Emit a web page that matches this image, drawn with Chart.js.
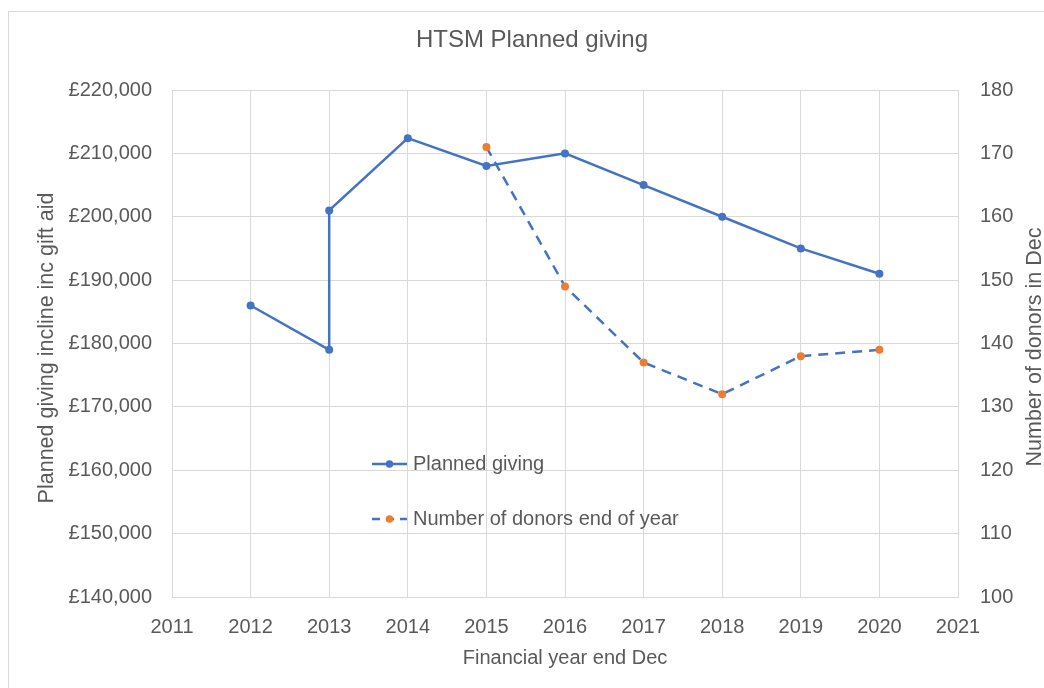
<!DOCTYPE html>
<html>
<head>
<meta charset="utf-8">
<script src="https://cdn.jsdelivr.net/npm/chart.js@4.4.1/dist/chart.umd.min.js"></script>
<style>
  html, body { margin: 0; padding: 0; background: #fff; }
  #wrap { width: 1044px; height: 688px; position: relative; }
</style>
</head>
<body>
<div id="wrap"><canvas id="myChart" width="1044" height="688"></canvas></div>
<script>
// data
const givingYears = [2012, 2013, 2013, 2014, 2015, 2016, 2017, 2018, 2019, 2020];
const givingValues = [186000, 179000, 201000, 212400, 208000, 210000, 205000, 200000, 195000, 191000];
const donorYears = [2015, 2016, 2017, 2018, 2019, 2020];
const donorValues = [171, 149, 137, 132, 138, 139];
const seriesNames = ['Planned giving', 'Number of donors end of year'];

const blue = '#4472C4';
const orange = '#ED7D31';
const textGrey = '#595959';
const gridGrey = '#D9D9D9';
const fontFamily = '"Liberation Sans", Arial, sans-serif';

const toPoints = (xs, ys) => xs.map((x, i) => ({ x: x, y: ys[i] }));

// rotated text reading bottom to top
function sideTitle(ctx, text, x, y) {
  ctx.save();
  ctx.fillStyle = textGrey;
  ctx.font = '21.5px ' + fontFamily;
  ctx.textAlign = 'center';
  ctx.textBaseline = 'middle';
  ctx.translate(x, y);
  ctx.rotate(-Math.PI / 2);
  ctx.fillText(text, 0, 0);
  ctx.restore();
}

// chart border, title, side titles and the in-plot legend
const extras = {
  id: 'extras',
  beforeDraw(chart) {
    const ctx = chart.ctx;
    ctx.save();
    ctx.strokeStyle = '#D9D9D9';
    ctx.lineWidth = 1;
    ctx.strokeRect(8.5, 11.5, 1100, 800);
    ctx.restore();
  },
  afterDraw(chart) {
    const ctx = chart.ctx;
    ctx.save();
    ctx.fillStyle = textGrey;
    ctx.font = '24px ' + fontFamily;
    ctx.textAlign = 'center';
    ctx.textBaseline = 'middle';
    ctx.fillText('HTSM Planned giving', 532, 40);
    ctx.restore();

    sideTitle(ctx, 'Planned giving incline inc gift aid', 47, 348);
    sideTitle(ctx, 'Number of donors in Dec', 1035, 347);

    // legend
    const rows = [
      { y: 464, dash: [], marker: blue },
      { y: 519, dash: [8, 6], marker: orange }
    ];
    ctx.save();
    rows.forEach((r, i) => {
      ctx.strokeStyle = blue;
      ctx.lineWidth = 2.5;
      ctx.setLineDash(r.dash);
      ctx.beginPath();
      ctx.moveTo(372, r.y);
      ctx.lineTo(407, r.y);
      ctx.stroke();
      ctx.setLineDash([]);
      ctx.fillStyle = r.marker;
      ctx.beginPath();
      ctx.arc(389.5, r.y, 3.8, 0, Math.PI * 2);
      ctx.fill();
      ctx.fillStyle = textGrey;
      ctx.font = '20px ' + fontFamily;
      ctx.textAlign = 'left';
      ctx.textBaseline = 'middle';
      ctx.fillText(seriesNames[i], 413, r.y);
    });
    ctx.restore();
  }
};

new Chart(document.getElementById('myChart'), {
  type: 'scatter',
  data: {
    datasets: [
      {
        label: seriesNames[0],
        data: toPoints(givingYears, givingValues),
        showLine: true,
        borderColor: blue,
        backgroundColor: blue,
        borderWidth: 2.5,
        pointRadius: 4,
        pointBorderWidth: 0,
        yAxisID: 'y'
      },
      {
        label: seriesNames[1],
        data: toPoints(donorYears, donorValues),
        showLine: true,
        borderColor: blue,
        backgroundColor: orange,
        pointBackgroundColor: orange,
        borderWidth: 2.5,
        borderDash: [10, 7],
        pointRadius: 4,
        pointBorderWidth: 0,
        yAxisID: 'y1'
      }
    ]
  },
  options: {
    responsive: false,
    animation: false,
    layout: { padding: { top: 90, left: 0, right: 0, bottom: 0 } },
    plugins: {
      legend: { display: false },
      tooltip: { enabled: false },
      title: { display: false }
    },
    scales: {
      x: {
        type: 'linear',
        min: 2011,
        max: 2021,
        ticks: {
          stepSize: 1,
          color: textGrey,
          padding: 18,
          font: { family: fontFamily, size: 20 },
          callback: (v) => String(v)
        },
        grid: { color: gridGrey, drawTicks: false },
        border: { color: gridGrey },
        title: {
          display: true,
          text: 'Financial year end Dec',
          color: textGrey,
          font: { family: fontFamily, size: 20 },
          padding: { top: 0, bottom: 18 }
        },
        afterFit(scale) { scale.height = 91; }
      },
      y: {
        position: 'left',
        min: 140000,
        max: 220000,
        ticks: {
          stepSize: 10000,
          color: textGrey,
          padding: 20,
          font: { family: fontFamily, size: 20 },
          callback: (v) => '£' + v.toLocaleString('en-GB')
        },
        grid: { color: gridGrey, drawTicks: false },
        border: { color: gridGrey },
        afterFit(scale) { scale.width = 172; }
      },
      y1: {
        position: 'right',
        min: 100,
        max: 180,
        ticks: {
          stepSize: 10,
          color: textGrey,
          padding: 22,
          font: { family: fontFamily, size: 20 }
        },
        grid: { drawOnChartArea: false, drawTicks: false },
        border: { color: gridGrey },
        afterFit(scale) { scale.width = 86; }
      }
    }
  },
  plugins: [extras]
});
</script>
</body>
</html>
